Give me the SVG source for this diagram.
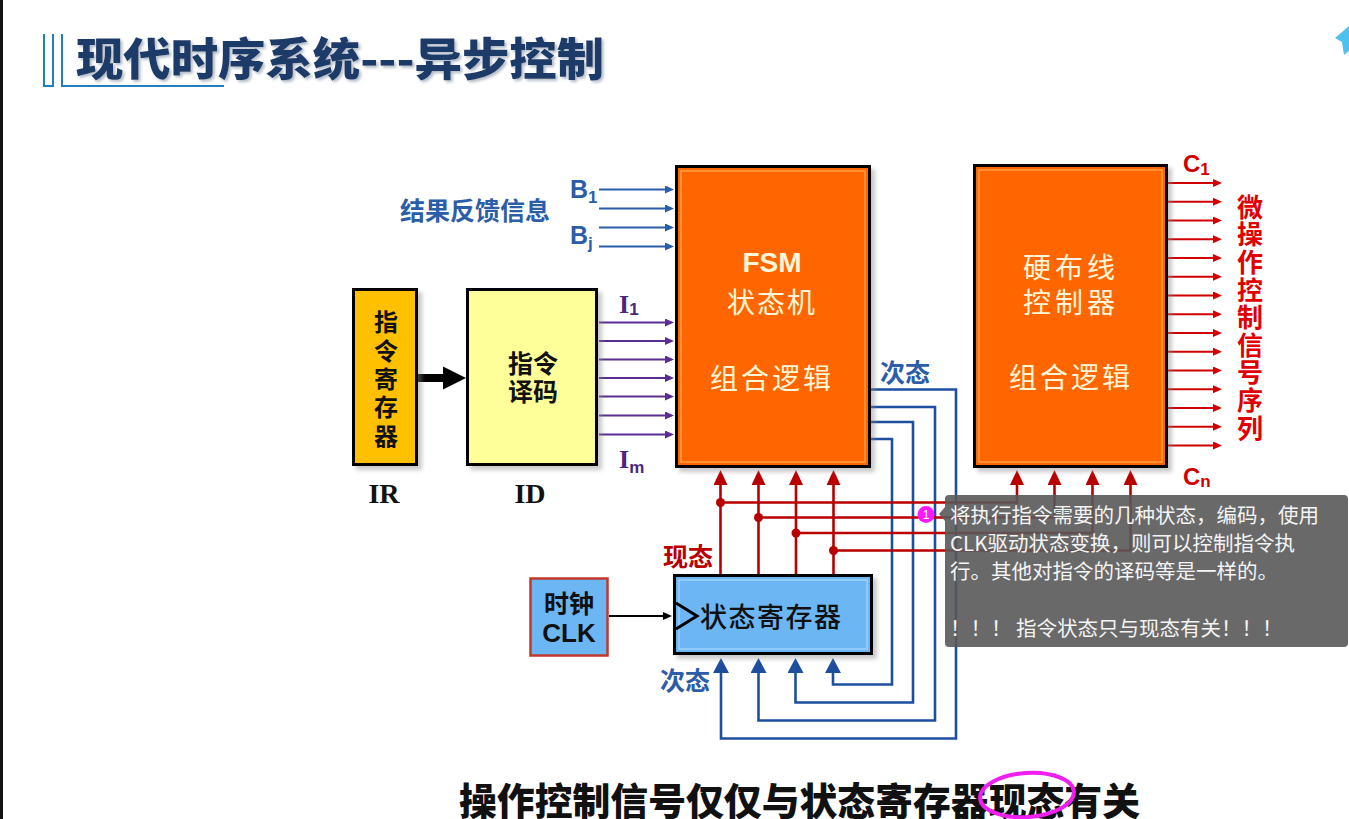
<svg xmlns="http://www.w3.org/2000/svg" width="1349" height="819" viewBox="0 0 1349 819">
  <style>
    .cjk { font-family: "Noto Sans CJK SC", "Noto Sans", sans-serif; }
    .vert { writing-mode: vertical-rl; }
    .box-border { stroke: #000; stroke-width: 3; }
    .orange { fill: #FF6600; }
    .inner-orange { fill: none; stroke: #FF9E45; stroke-width: 1.5; }
    .cream { fill: #FFF6D8; font-family: "Noto Sans CJK SC", sans-serif; font-size: 28px; text-anchor: middle; }
    .blue-bus { fill: none; stroke: #1E4E9E; stroke-width: 2.6; }
    .red-bus { fill: none; stroke: #B80000; stroke-width: 2.6; }
    .purple-in { stroke: #5C2D91; stroke-width: 2; }
    .blue-in { stroke: #2B5DA8; stroke-width: 2; }
    .red-out { stroke: #D00000; stroke-width: 2; }
    .lbl-blue { fill: #2B5DA8; font-family: "Noto Sans CJK SC", sans-serif; font-weight: 700; }
    .lbl-red { fill: #B80000; font-family: "Noto Sans CJK SC", sans-serif; font-weight: 700; }
    .serif-b { font-family: "Liberation Serif", "DejaVu Serif", serif; font-weight: 700; }
    .sans-b { font-family: "Liberation Sans", Arial, sans-serif; font-weight: 700; }
    .tip { fill: #F4F4F4; font-family: "Noto Sans CJK SC", "Noto Sans", sans-serif; font-size: 20.5px; }
  </style>
  <defs>
    <filter id="shadow" x="-10%" y="-10%" width="130%" height="130%">
      <feGaussianBlur stdDeviation="2"/>
    </filter>
    <filter id="titleGlow" x="-5%" y="-20%" width="110%" height="140%">
      <feGaussianBlur in="SourceAlpha" stdDeviation="1.5" result="b"/>
      <feOffset dx="2" dy="2" result="o"/>
      <feFlood flood-color="#9aa7b8" flood-opacity="0.8"/>
      <feComposite in2="o" operator="in" result="s"/>
      <feMerge><feMergeNode in="s"/><feMergeNode in="SourceGraphic"/></feMerge>
    </filter>
    <marker id="ah-purple" markerUnits="userSpaceOnUse" markerWidth="10" markerHeight="8" refX="2" refY="4" orient="auto">
      <path d="M0,0 L9,4 L0,8 z" fill="#5C2D91"/>
    </marker>
    <marker id="ah-blue-s" markerUnits="userSpaceOnUse" markerWidth="10" markerHeight="8" refX="2" refY="4" orient="auto">
      <path d="M0,0 L9,4 L0,8 z" fill="#2B5DA8"/>
    </marker>
    <marker id="ah-red-s" markerUnits="userSpaceOnUse" markerWidth="10" markerHeight="8" refX="2" refY="4" orient="auto">
      <path d="M0,0 L9,4 L0,8 z" fill="#D00000"/>
    </marker>
    <marker id="ah-black-s" markerUnits="userSpaceOnUse" markerWidth="10" markerHeight="8" refX="2" refY="4" orient="auto">
      <path d="M0,0 L9,4 L0,8 z" fill="#000"/>
    </marker>
    <marker id="ah-red-l" markerUnits="userSpaceOnUse" markerWidth="16" markerHeight="14" refX="3" refY="7" orient="auto">
      <path d="M0,0 L15,7 L0,14 z" fill="#B80000"/>
    </marker>
    <marker id="ah-blue-l" markerUnits="userSpaceOnUse" markerWidth="16" markerHeight="16" refX="3" refY="8" orient="auto">
      <path d="M0,0 L15,8 L0,16 z" fill="#1E4E9E"/>
    </marker>
  </defs>

  <rect width="1349" height="819" fill="#FFFFFF"/>
  <!-- dark frame edge on the left -->
  <rect x="0" y="0" width="3" height="819" fill="#111"/>

  <!-- heading -->
  <g id="title">
    <path d="M44,34 V86 H53 V34" fill="none" stroke="#1F7FC0" stroke-width="2"/>
    <path d="M62,34 V86 H224" fill="none" stroke="#1F7FC0" stroke-width="2"/>
    <text x="76" y="76" class="cjk" font-size="45" font-weight="900" fill="#1F3A68" textLength="528" lengthAdjust="spacingAndGlyphs" filter="url(#titleGlow)">现代时序系统---异步控制</text>
  </g>

  <!-- corner icon -->
  <polygon points="1349,26 1335,38 1342,42 1344,55 1349,51" fill="#4FC1F0"/>

  <!-- connectors -->
  <g id="connectors">
    <!-- IR to ID bus -->
    <rect x="418" y="374" width="26" height="8" fill="#000"/>
    <polygon points="443,366.5 466,378 443,389.5" fill="#000"/>

    <!-- feedback inputs B -->
    <g class="blue-in" marker-end="url(#ah-blue-s)">
      <line x1="599" y1="189.5" x2="667" y2="189.5"/>
      <line x1="599" y1="208.5" x2="667" y2="208.5"/>
      <line x1="599" y1="227.5" x2="667" y2="227.5"/>
      <line x1="599" y1="246.5" x2="667" y2="246.5"/>
    </g>

    <!-- decoded instruction lines I -->
    <g class="purple-in" marker-end="url(#ah-purple)">
      <line x1="599" y1="322.5" x2="667" y2="322.5"/>
      <line x1="599" y1="341" x2="667" y2="341"/>
      <line x1="599" y1="359.5" x2="667" y2="359.5"/>
      <line x1="599" y1="378" x2="667" y2="378"/>
      <line x1="599" y1="396.5" x2="667" y2="396.5"/>
      <line x1="599" y1="415.5" x2="667" y2="415.5"/>
      <line x1="599" y1="434.5" x2="667" y2="434.5"/>
    </g>

    <!-- next state feedback -->
    <g class="blue-bus" marker-end="url(#ah-blue-l)">
      <polyline points="871,389.5 956,389.5 956,738.5 721,738.5 721,670"/>
      <polyline points="871,407 935,407 935,720.5 758.5,720.5 758.5,670"/>
      <polyline points="871,422 913,422 913,702.5 795.5,702.5 795.5,670"/>
      <polyline points="871,439 892,439 892,684.5 833,684.5 833,670"/>
    </g>

    <!-- present state to FSM -->
    <g class="red-bus" marker-end="url(#ah-red-l)">
      <line x1="720.5" y1="574" x2="720.5" y2="482"/>
      <line x1="758.5" y1="574" x2="758.5" y2="482"/>
      <line x1="796" y1="574" x2="796" y2="482"/>
      <line x1="833.5" y1="574" x2="833.5" y2="482"/>
    </g>
    <!-- present state to hardwired controller -->
    <g class="red-bus" marker-end="url(#ah-red-l)">
      <polyline points="720.5,502.5 1017,502.5 1017,482"/>
      <polyline points="758.5,517.5 1054.5,517.5 1054.5,482"/>
      <polyline points="796,533 1092.5,533 1092.5,482"/>
      <polyline points="833.5,550.5 1130.5,550.5 1130.5,482"/>
    </g>
    <g fill="#B80000">
      <circle cx="720.5" cy="502.5" r="4.5"/>
      <circle cx="758.5" cy="517.5" r="4.5"/>
      <circle cx="796" cy="533" r="4.5"/>
      <circle cx="833.5" cy="550.5" r="4.5"/>
    </g>

    <!-- clock into state register -->
    <line x1="609" y1="616" x2="665" y2="616" stroke="#000" stroke-width="2" marker-end="url(#ah-black-s)"/>

    <!-- control signal outputs -->
    <g class="red-out" marker-end="url(#ah-red-s)">
      <line x1="1168" y1="183" x2="1215" y2="183"/>
      <line x1="1168" y1="201.75" x2="1215" y2="201.75"/>
      <line x1="1168" y1="220.5" x2="1215" y2="220.5"/>
      <line x1="1168" y1="239.25" x2="1215" y2="239.25"/>
      <line x1="1168" y1="258" x2="1215" y2="258"/>
      <line x1="1168" y1="276.75" x2="1215" y2="276.75"/>
      <line x1="1168" y1="295.5" x2="1215" y2="295.5"/>
      <line x1="1168" y1="314.25" x2="1215" y2="314.25"/>
      <line x1="1168" y1="333" x2="1215" y2="333"/>
      <line x1="1168" y1="351.75" x2="1215" y2="351.75"/>
      <line x1="1168" y1="370.5" x2="1215" y2="370.5"/>
      <line x1="1168" y1="389.25" x2="1215" y2="389.25"/>
      <line x1="1168" y1="408" x2="1215" y2="408"/>
      <line x1="1168" y1="426.75" x2="1215" y2="426.75"/>
      <line x1="1168" y1="445.5" x2="1215" y2="445.5"/>
    </g>
  </g>

  <!-- instruction register -->
  <g id="node-ir">
    <rect x="356" y="292" width="66" height="178" fill="#888" opacity="0.45" filter="url(#shadow)"/>
    <rect x="353.5" y="289.5" width="63" height="175" fill="#FFC000" class="box-border"/>
    <text x="386" y="310" class="cjk vert" font-size="24" font-weight="700" fill="#111" letter-spacing="4.4">指令寄存器</text>
    <text x="384" y="503" class="serif-b" font-size="28" fill="#111" text-anchor="middle">IR</text>
  </g>

  <!-- instruction decoder -->
  <g id="node-id">
    <rect x="470" y="292" width="132" height="178" fill="#888" opacity="0.45" filter="url(#shadow)"/>
    <rect x="467.5" y="289.5" width="129" height="175" fill="#FFFF99" class="box-border"/>
    <text x="533" y="373" class="cjk" font-size="25" font-weight="600" fill="#111" text-anchor="middle">指令</text>
    <text x="533" y="401" class="cjk" font-size="25" font-weight="600" fill="#111" text-anchor="middle">译码</text>
    <text x="530" y="503" class="serif-b" font-size="28" fill="#111" text-anchor="middle">ID</text>
  </g>

  <!-- finite state machine -->
  <g id="node-fsm">
    <rect x="679" y="169" width="196" height="303" fill="#888" opacity="0.45" filter="url(#shadow)"/>
    <rect x="676.5" y="166.5" width="193" height="300" class="orange box-border"/>
    <rect x="681" y="171" width="184" height="291" class="inner-orange"/>
    <text x="772" y="272" class="sans-b" font-size="28" fill="#FFF6D8" text-anchor="middle">FSM</text>
    <text x="772" y="313" class="cream" letter-spacing="2">状态机</text>
    <text x="772" y="389" class="cream" font-size="29" letter-spacing="3">组合逻辑</text>
  </g>

  <!-- hardwired controller -->
  <g id="node-hw">
    <rect x="977" y="168" width="195" height="304" fill="#888" opacity="0.45" filter="url(#shadow)"/>
    <rect x="974.5" y="165.5" width="192" height="301" class="orange box-border"/>
    <rect x="979" y="170" width="183" height="292" class="inner-orange"/>
    <text x="1071" y="278" class="cream" letter-spacing="4">硬布线</text>
    <text x="1071" y="313" class="cream" letter-spacing="4">控制器</text>
    <text x="1071" y="388" class="cream" font-size="29" letter-spacing="3">组合逻辑</text>
  </g>

  <!-- state register -->
  <g id="node-state-reg">
    <rect x="677" y="578" width="200" height="81" fill="#888" opacity="0.45" filter="url(#shadow)"/>
    <rect x="674.5" y="575.5" width="197" height="78" fill="#6CB6F4" class="box-border"/>
    <rect x="679" y="580" width="188" height="69" fill="none" stroke="#A8D6FF" stroke-width="1.2"/>
    <polyline points="676,603 697,616 676,629" fill="none" stroke="#000" stroke-width="3"/>
    <text x="700" y="627" class="cjk" font-size="27" font-weight="500" fill="#111" letter-spacing="1.5">状态寄存器</text>
  </g>

  <!-- clock source -->
  <g id="node-clk">
    <rect x="530.5" y="578.5" width="77" height="77" fill="#6CB6F4" stroke="#C0392B" stroke-width="2.5"/>
    <text x="569" y="613" class="cjk" font-size="25" font-weight="700" fill="#111" text-anchor="middle">时钟</text>
    <text x="569" y="642" class="sans-b" font-size="26" fill="#111" text-anchor="middle">CLK</text>
  </g>

  <!-- signal labels -->
  <g id="labels">
    <text x="400" y="220" class="lbl-blue" font-size="25">结果反馈信息</text>
    <text x="570" y="198" class="sans-b" font-size="25" fill="#2B5DA8">B<tspan font-size="17" dy="5">1</tspan></text>
    <text x="570" y="244" class="sans-b" font-size="25" fill="#2B5DA8">B<tspan font-size="17" dy="5">j</tspan></text>
    <text x="619" y="313" class="serif-b" font-size="26" fill="#4B2580">I<tspan class="sans-b" font-size="17" dy="2">1</tspan></text>
    <text x="619" y="468" class="serif-b" font-size="26" fill="#4B2580">I<tspan class="sans-b" font-size="17" dy="5">m</tspan></text>
    <text x="880" y="382" class="lbl-blue" font-size="25">次态</text>
    <text x="660" y="690" class="lbl-blue" font-size="25">次态</text>
    <text x="663" y="566" class="lbl-red" font-size="25">现态</text>
    <text x="1183" y="172" class="sans-b" font-size="24" fill="#D00000">C<tspan font-size="17" dy="3">1</tspan></text>
    <text x="1183" y="485" class="sans-b" font-size="24" fill="#D00000">C<tspan font-size="17" dy="2">n</tspan></text>
    <text x="1250" y="194" class="cjk vert" font-size="26" font-weight="700" fill="#E00000" letter-spacing="1.6">微操作控制信号序列</text>
  </g>

  <!-- annotation popup -->
  <g id="tooltip">
    <rect x="945" y="495" width="403" height="152" rx="4" fill="#595959" opacity="0.9"/>
    <polygon points="945,507 939,514 945,521" fill="#595959" opacity="0.9"/>
    <circle cx="926" cy="514.5" r="8.5" fill="#FF1AFF"/>
    <text x="926" y="519" font-family="Liberation Sans, Arial, sans-serif" font-size="12" fill="#fff" text-anchor="middle">1</text>
    <text class="tip">
      <tspan x="950" y="523">将执行指令需要的几种状态，编码，使用</tspan>
      <tspan x="950" y="551">CLK驱动状态变换，则可以控制指令执</tspan>
      <tspan x="950" y="579">行。其他对指令的译码等是一样的。</tspan>
      <tspan x="950" y="636">！！！ 指令状态只与现态有关！！！</tspan>
    </text>
  </g>

  <!-- conclusion line -->
  <g id="footer">
    <text x="459" y="815" class="cjk" font-size="38" font-weight="900" fill="#111" textLength="681" lengthAdjust="spacingAndGlyphs">操作控制信号仅仅与状态寄存器现态有关</text>
    <ellipse cx="1027" cy="795" rx="47" ry="22" fill="none" stroke="#F01EF0" stroke-width="4" transform="rotate(-4 1027 795)"/>
  </g>
</svg>
